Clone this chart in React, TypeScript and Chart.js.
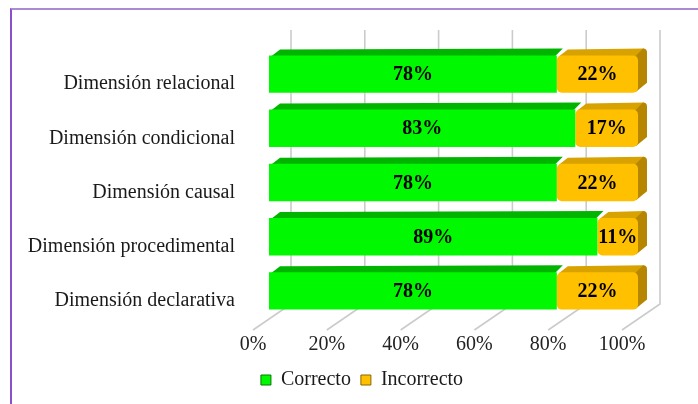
import React, { useEffect, useRef } from 'react';
import { Chart, registerables } from 'chart.js';

Chart.register(...registerables);

const categories = [
  'Dimensión relacional',
  'Dimensión condicional',
  'Dimensión causal',
  'Dimensión procedimental',
  'Dimensión declarativa',
];
const correcto = [78, 83, 78, 89, 78];
const incorrecto = [22, 17, 22, 11, 22];
const xTicks = [0, 20, 40, 60, 80, 100];
const seriesNames = ['Correcto', 'Incorrecto'];

const FONT = "'Liberation Serif', 'Times New Roman', serif";

const faceColors = [
  { front: '#00f800', top: '#00b400', side: '#009400', edge: '#007a00' },
  { front: '#ffc000', top: '#d8a200', side: '#b68600', edge: '#8a6600' },
];

const DX = 9;
const DY = 7;

const threeD = {
  id: 'threeD',
  beforeDatasetsDraw(chart: any) {
    const { ctx, chartArea } = chart;
    const xs = chart.scales.x;
    const { top, bottom } = chartArea;
    ctx.save();
    ctx.strokeStyle = '#cbcbcb';
    ctx.lineWidth = 1.6;
    xTicks.forEach((v) => {
      const px = xs.getPixelForValue(v);
      ctx.beginPath();
      ctx.moveTo(px + 22, top - 17);
      ctx.lineTo(px + 22, bottom - 14);
      ctx.lineTo(px - 16, bottom + 12);
      ctx.stroke();
    });
    const n = chart.data.datasets.length;
    for (let d = 0; d < n; d++) {
      const meta = chart.getDatasetMeta(d);
      meta.data.forEach((el: any) => {
        const p = el.getProps(['x', 'y', 'base', 'height'], true);
        const left = Math.min(p.x, p.base);
        const right = Math.max(p.x, p.base);
        const t = p.y - p.height / 2;
        const b = p.y + p.height / 2;
        ctx.fillStyle = faceColors[d].top;
        ctx.beginPath();
        ctx.moveTo(left + 2, t + 1);
        ctx.lineTo(left + 2 + DX, t - DY + 1);
        ctx.lineTo(right + DX - 3, t - DY);
        ctx.lineTo(right - 2, t + 1);
        ctx.closePath();
        ctx.fill();
        if (d === n - 1) {
          ctx.fillStyle = faceColors[d].side;
          ctx.beginPath();
          ctx.moveTo(right - 3, t + 1);
          ctx.lineTo(right + DX - 4, t - DY);
          ctx.quadraticCurveTo(right + DX, t - DY, right + DX, t - DY + 4);
          ctx.lineTo(right + DX, b - DY - 3);
          ctx.lineTo(right - 2, b - 1);
          ctx.closePath();
          ctx.fill();
        }
      });
    }
    ctx.restore();
  },
  afterDatasetsDraw(chart: any) {
    const { ctx } = chart;
    ctx.save();
    ctx.font = `bold 20px ${FONT}`;
    ctx.fillStyle = '#000';
    ctx.textAlign = 'center';
    ctx.textBaseline = 'middle';
    chart.data.datasets.forEach((ds: any, d: number) => {
      const meta = chart.getDatasetMeta(d);
      meta.data.forEach((el: any, i: number) => {
        const p = el.getProps(['x', 'y', 'base'], true);
        ctx.fillText(`${ds.data[i]}%`, (p.x + p.base) / 2, p.y + 1);
      });
    });
    ctx.restore();
  },
};

export default function App() {
  const ref = useRef<HTMLCanvasElement>(null);

  useEffect(() => {
    if (!ref.current) return;
    Chart.defaults.font.family = FONT;
    const chart = new Chart(ref.current, {
      type: 'bar',
      data: {
        labels: categories,
        datasets: [
          {
            label: seriesNames[0],
            data: correcto,
            backgroundColor: faceColors[0].front,
            borderWidth: 0,
            borderRadius: 5,
            borderSkipped: false,
            barPercentage: 0.69,
            categoryPercentage: 1,
          },
          {
            label: seriesNames[1],
            data: incorrecto,
            backgroundColor: faceColors[1].front,
            borderWidth: 0,
            borderRadius: 5,
            borderSkipped: false,
            barPercentage: 0.69,
            categoryPercentage: 1,
          },
        ],
      },
      options: {
        indexAxis: 'y',
        responsive: false,
        animation: false,
        layout: { padding: { left: 26, right: 0, top: 47, bottom: 4 } },
        scales: {
          x: {
            type: 'linear',
            stacked: true,
            min: 0,
            max: 100,
            grid: { display: false, drawTicks: false },
            border: { display: false },
            afterBuildTicks: (s: any) => {
              s.ticks = xTicks.map((v) => ({ value: v }));
            },
            afterFit: (s: any) => {
              s.height = 42;
            },
            ticks: {
              callback: (v: any) => `${v}%`,
              font: { size: 20, family: FONT },
              color: '#222',
              padding: 15,
              labelOffset: -16,
              maxRotation: 0,
              autoSkip: false,
            },
          },
          y: {
            type: 'category',
            stacked: true,
            grid: { display: false, drawTicks: false },
            border: { display: false },
            afterFit: (s: any) => {
              s.width = 243;
            },
            ticks: {
              font: { size: 20, family: FONT },
              color: '#1a1a1a',
              padding: 34,
              labelOffset: 10,
            },
          },
          yRight: {
            type: 'category',
            position: 'right',
            display: true,
            grid: { display: false, drawTicks: false },
            border: { display: false },
            ticks: { display: false },
            afterFit: (s: any) => {
              s.width = 60;
            },
          },
        },
        plugins: {
          tooltip: { enabled: false },
          legend: {
            position: 'bottom',
            labels: {
              boxWidth: 10,
              boxHeight: 10,
              padding: 10,
              color: '#1a1a1a',
              font: { size: 20, family: FONT },
              generateLabels: (c: any) =>
                Chart.defaults.plugins.legend.labels
                  .generateLabels(c)
                  .map((l: any, i: number) => ({
                    ...l,
                    strokeStyle: faceColors[i].edge,
                    lineWidth: 1,
                  })),
            },
          },
        },
      },
      plugins: [threeD],
    } as any);
    return () => chart.destroy();
  }, []);

  return (
    <div
      style={{
        position: 'fixed',
        left: 0,
        top: 0,
        width: 698,
        height: 404,
        overflow: 'hidden',
        background: '#fff',
      }}
    >
      <div
        style={{
          position: 'absolute',
          left: 10,
          top: 8,
          width: 720,
          height: 420,
          borderTop: '2px solid #a98bd6',
          borderLeft: '2px solid #8a4fcc',
        }}
      />
      <canvas
        ref={ref}
        width={698}
        height={404}
        style={{ position: 'absolute', left: 0, top: 0, width: 698, height: 404 }}
      />
    </div>
  );
}
